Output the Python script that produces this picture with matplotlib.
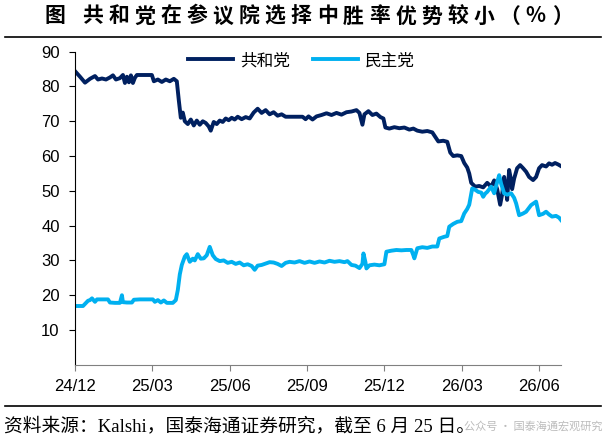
import matplotlib.pyplot as plt

# observation index (trading-day order) and win probability, %
rep_obs = [0, 5, 10, 15, 20, 23, 27, 31, 35, 38, 41, 45, 48, 50, 52, 54, 56, 58, 60, 62,
           70, 77, 79, 83, 87, 91, 95, 99, 102, 104, 106, 108, 110, 113, 116, 119, 122,
           125, 128, 131, 134, 136, 139, 142, 145, 148, 151, 154, 157, 160, 163, 167, 171,
           175, 179, 183, 187, 191, 195, 199, 203, 207, 211, 220, 228, 231, 234, 238, 242,
           247, 252, 257, 262, 267, 272, 277, 282, 285, 288, 290, 294, 298, 302, 306, 309,
           311, 315, 320, 325, 330, 335, 339, 343, 348, 353, 358, 361, 364, 369, 373, 376,
           379, 383, 387, 390, 393, 395, 397, 401, 405, 409, 413, 417, 420, 423, 426, 428,
           430, 432, 433, 435, 437, 438, 440, 443, 446, 449, 452, 455, 459, 462, 465, 468,
           472, 475, 478, 481, 484, 487]
rep_val = [84.4, 82.8, 81.1, 82.2, 83.0, 82.0, 82.3, 82.0, 82.6, 83.2, 82.0, 82.4, 83.3,
           81.0, 82.8, 81.2, 83.2, 81.0, 82.5, 83.3, 83.3, 83.3, 81.5, 82.0, 81.3, 82.0,
           81.5, 82.2, 81.5, 76.0, 71.0, 72.5, 70.0, 69.2, 70.5, 68.8, 70.2, 69.0, 70.0,
           69.5, 68.5, 67.3, 69.8, 69.2, 70.2, 69.8, 70.8, 70.3, 71.0, 70.5, 71.3, 70.6,
           71.2, 70.8, 72.5, 73.6, 72.4, 73.2, 72.0, 72.6, 71.6, 72.0, 71.3, 71.3, 71.3,
           70.6, 71.4, 70.5, 71.4, 71.8, 72.3, 71.8, 72.4, 71.9, 72.6, 72.8, 73.2, 72.4,
           69.0, 72.0, 72.9, 71.8, 72.2, 71.2, 70.8, 68.2, 67.9, 68.3, 68.0, 68.2, 67.6,
           67.9, 67.3, 67.0, 67.2, 66.8, 65.5, 64.2, 64.4, 64.1, 61.0, 60.0, 60.2, 60.0,
           58.0, 56.7, 55.0, 52.3, 51.2, 51.4, 51.0, 52.3, 51.2, 53.0, 50.5, 46.0, 49.0,
           54.0, 50.0, 47.4, 56.0, 53.0, 50.5, 53.5, 56.5, 57.4, 56.5, 55.5, 54.0, 53.1,
           54.0, 56.5, 57.4, 57.0, 57.9, 57.5, 58.0, 57.6, 57.1]

dem_obs = [0, 5, 8, 11, 13, 15, 17, 20, 22, 28, 33, 35, 40, 45, 47, 48, 52, 57, 59, 65,
           71, 78, 80, 83, 86, 89, 92, 95, 98, 101, 103, 105, 107, 110, 112, 115, 118,
           120, 123, 126, 129, 132, 135, 138, 141, 145, 149, 153, 157, 161, 165, 169, 173,
           177, 180, 183, 187, 191, 195, 199, 203, 207, 211, 215, 220, 225, 230, 235, 240,
           245, 250, 255, 260, 265, 270, 273, 277, 281, 285, 288, 289, 291, 292, 295, 300,
           305, 310, 312, 317, 322, 327, 332, 337, 339, 340, 343, 348, 353, 358, 363, 365,
           370, 373, 375, 379, 383, 387, 390, 393, 395, 398, 401, 404, 407, 409, 411, 413,
           417, 420, 423, 425, 427, 430, 433, 437, 440, 442, 445, 449, 452, 457, 462, 465,
           469, 472, 475, 478, 482, 485, 487]
dem_val = [16.9, 16.9, 16.9, 17.8, 18.4, 18.6, 19.1, 18.1, 18.8, 18.8, 18.8, 17.9, 17.8,
           17.8, 20.0, 18.0, 17.9, 17.9, 18.7, 18.8, 18.8, 18.8, 18.1, 18.6, 17.9, 18.5,
           17.8, 17.8, 17.8, 18.6, 21.5, 26.0, 28.7, 31.1, 31.8, 29.6, 30.5, 30.0, 31.8,
           30.5, 30.6, 31.5, 33.9, 31.5, 30.4, 29.8, 30.0, 29.3, 29.6, 29.0, 29.4, 28.6,
           28.9, 28.4, 27.3, 28.5, 28.7, 29.1, 29.5, 29.4, 29.0, 28.4, 29.3, 29.6, 29.4,
           29.8, 29.3, 29.7, 29.3, 29.7, 29.4, 29.9, 29.6, 29.8, 29.5, 29.8, 28.7, 28.5,
           27.8, 29.0, 32.0, 29.5, 27.7, 28.6, 28.8, 28.6, 28.9, 32.5, 32.8, 33.0, 32.9,
           33.0, 33.0, 31.5, 30.6, 33.5, 33.8, 33.6, 34.0, 34.0, 36.3, 36.8, 37.0, 39.7,
           40.5, 41.1, 41.3, 43.5, 44.8, 46.0, 50.7, 50.3, 49.7, 49.5, 48.3, 49.2, 49.7,
           51.2, 49.3, 52.5, 54.5, 52.0, 49.3, 48.9, 49.3, 48.0, 46.4, 43.0, 43.5, 44.0,
           45.9, 46.9, 43.0, 43.4, 44.0, 43.2, 42.6, 42.8, 42.3, 41.6]

tick_obs = [0, 77.5, 155, 232.5, 310, 387.5, 465]
tick_labels = ['24/12', '25/03', '25/06', '25/09', '25/12', '26/03', '26/06']

title = '共和党在参议院选择中胜率优势较小（%）'
source = '资料来源：Kalshi，国泰海通证券研究，截至 6 月 25 日。'

cjk = ['Noto Sans CJK SC', 'DejaVu Sans']
fig = plt.figure(figsize=(6.06, 4.41), dpi=100)
ax = fig.add_axes([0.1238, 0.1728, 0.802, 0.71])

ax.plot(rep_obs, rep_val, color='#002060', lw=2.8, label='共和党')
ax.plot(dem_obs, dem_val, color='#00B0F0', lw=2.8, label='民主党')

ax.set_xlim(0, 487)
ax.set_ylim(0, 90)
ax.set_yticks(range(10, 91, 10))
ax.set_xticks(tick_obs)
ax.set_xticklabels(tick_labels)
for lab in ax.get_xticklabels() + ax.get_yticklabels():
    lab.set_family('Liberation Sans')
    lab.set_fontsize(12)
ax.tick_params(axis='y', length=4, width=0.8, pad=7)
ax.tick_params(axis='x', length=4, width=0.8, pad=6, color='#808080')
ax.spines['top'].set_visible(False)
ax.spines['right'].set_visible(False)
ax.spines['bottom'].set_color('#808080')

leg = ax.legend(loc='center', bbox_to_anchor=(0.466, 0.971), ncol=2, frameon=False,
                handlelength=2.7, handletextpad=0.4, columnspacing=1.4,
                prop={'family': cjk, 'size': 12})

# title, one character at a time for the wide spacing
fig.text(45 / 606, 1 - 16 / 441, '图', family=cjk, fontsize=15, fontweight='bold', va='center')
for i, ch in enumerate(title):
    fig.text((82 + i * 26.1) / 606, 1 - 16 / 441, ch, family=cjk, fontsize=15,
             fontweight='bold', va='center')
fig.add_artist(plt.Line2D([0.008, 0.992], [1 - 37 / 441] * 2, color='black', lw=1.2))
fig.add_artist(plt.Line2D([0.008, 0.992], [1 - 406 / 441] * 2, color='black', lw=1.2))

fig.text(4 / 606, 1 - 426 / 441, source, family=['Liberation Serif', 'Noto Sans CJK SC'],
         fontsize=13.5, va='center')
fig.text(603 / 606, 1 - 426 / 441, '公众号 · 国泰海通宏观研究', family=cjk, fontsize=8,
         color='#bbbbbb', ha='right', va='center')

fig.savefig('out.png', dpi=100)
